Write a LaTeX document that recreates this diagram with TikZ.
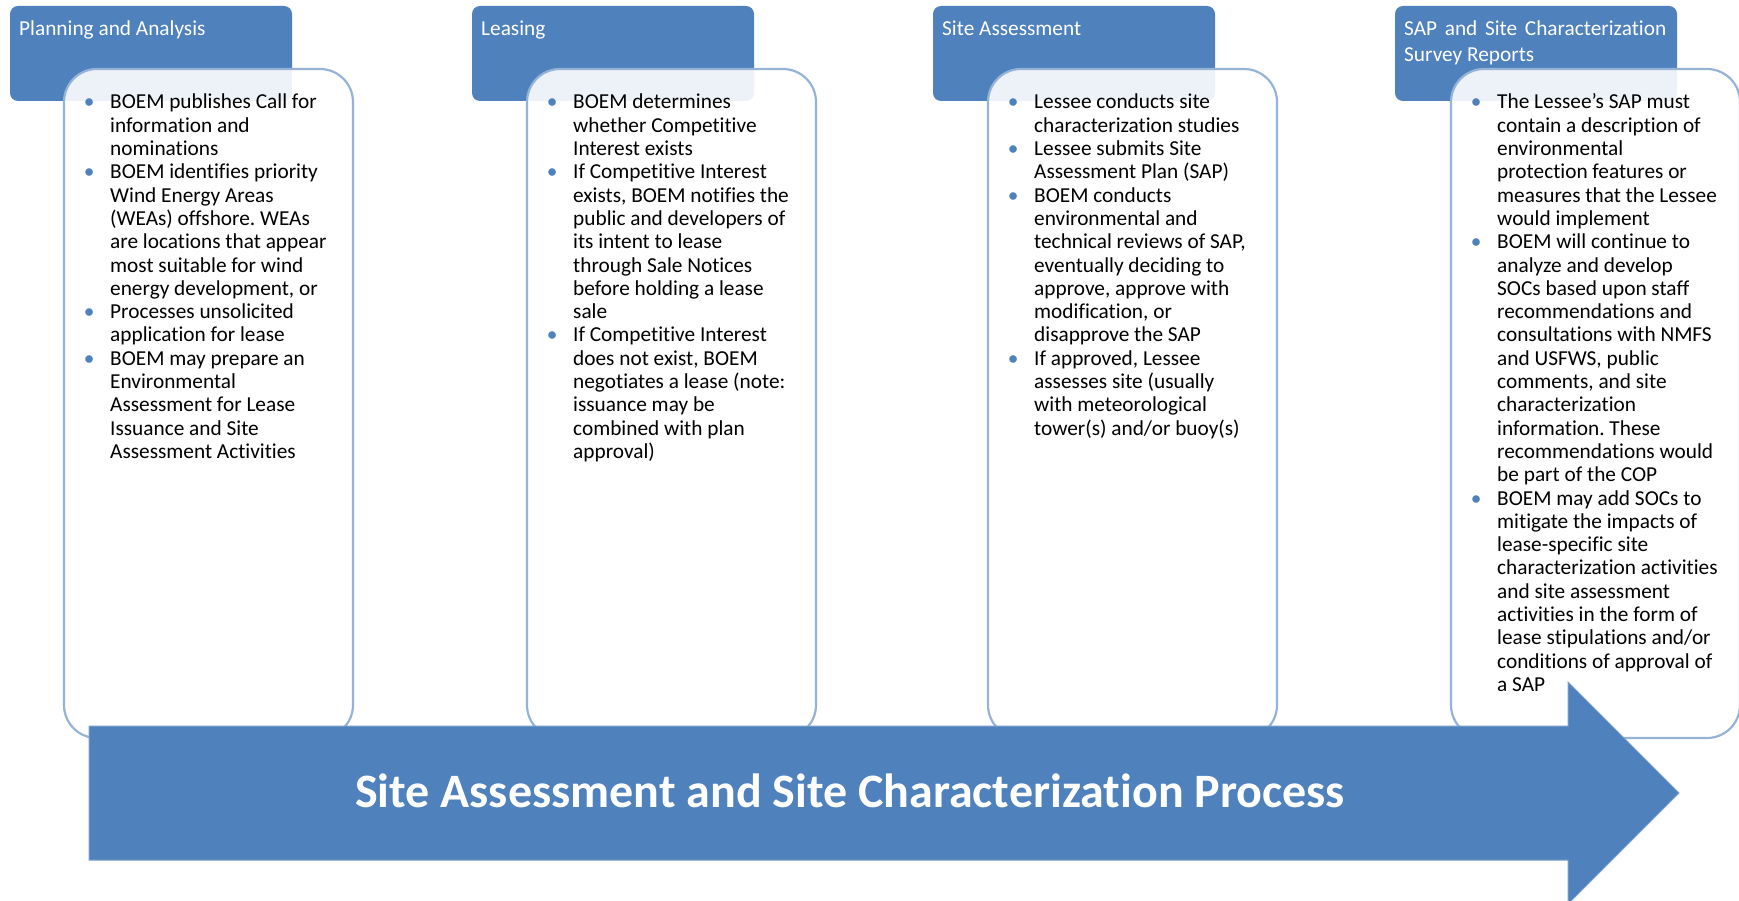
\documentclass[tikz,border=0pt]{standalone}
\usepackage{fontspec}
\setmainfont{Carlito}[Ligatures={TeX,NoCommon}]
\usetikzlibrary{positioning}
\frenchspacing

\definecolor{boemblue}{HTML}{4F81BD}
\definecolor{edgeblue}{HTML}{95B3D7}

% blue bullet for the note lists
\newcommand{\itm}{\makebox[7pt]{\textcolor{boemblue}{\textbullet}}}

\tikzset{
  phase/.style={fill=boemblue, rounded corners=8pt, minimum width=282pt, minimum height=95pt,
    inner sep=0pt, outer sep=0pt},
  phasetext/.style={text=white, font=\fontsize{21.3}{26}\selectfont, anchor=base west,
    inner sep=0pt, align=left},
  note/.style={draw=edgeblue, line width=2.2pt, fill=white, fill opacity=0.9,
    rounded corners=33pt, minimum width=289pt, minimum height=669pt, inner sep=0pt, outer sep=0pt},
  notetext/.style={font=\fontsize{21.3}{23.3}\selectfont, anchor=base west, inner sep=0pt},
}

\begin{document}
\begin{tikzpicture}[x=1pt, y=-1pt]
\useasboundingbox (0,0) rectangle (1739,901);
\clip (0,0) rectangle (1739,901);

% Phase headers
\node[phase, anchor=north west] (phase1) at (10,6) {};
\node[phase, right=180pt of phase1] (phase2) {};
\node[phase, right=179pt of phase2] (phase3) {};
\node[phase, right=180pt of phase3] (phase4) {};

\node[phasetext] (head1) at ([xshift=9pt, yshift=-30pt]phase1.north west) {Planning and Analysis};
\node[phasetext] (head2) at ([xshift=9pt, yshift=-30pt]phase2.north west) {Leasing};
\node[phasetext] (head3) at ([xshift=9pt, yshift=-30pt]phase3.north west) {Site Assessment};
% two lines: base anchor sits on the last one
\node[phasetext] (head4) at ([xshift=9pt, yshift=-56pt]phase4.north west)
  {\makebox[262pt][s]{SAP and Site Characterization}\\Survey Reports};

% Note boxes
\node[note, below right=63pt and 54pt of phase1.north west] (note1) {};
\node[note, below right=63pt and 55pt of phase2.north west] (note2) {};
\node[note, below right=63pt and 55pt of phase3.north west] (note3) {};
\node[note, below right=63pt and 56pt of phase4.north west] (note4) {};

\node[notetext] (list1) at ([xshift=21.5pt, yshift=-40pt]note1.north west) {%
\begin{tabular}[t]{@{}l@{\hspace{17.5pt}}l@{}}
\itm & BOEM publishes Call for\\
     & information and\\
     & nominations\\
\itm & BOEM identifies priority\\
     & Wind Energy Areas\\
     & (WEAs) offshore. WEAs\\
     & are locations that appear\\
     & most suitable for wind\\
     & energy development, or\\
\itm & Processes unsolicited\\
     & application for lease\\
\itm & BOEM may prepare an\\
     & Environmental\\
     & Assessment for Lease\\
     & Issuance and Site\\
     & Assessment Activities
\end{tabular}};

\node[notetext] (list2) at ([xshift=21.5pt, yshift=-40pt]note2.north west) {%
\begin{tabular}[t]{@{}l@{\hspace{17.5pt}}l@{}}
\itm & BOEM determines\\
     & whether Competitive\\
     & Interest exists\\
\itm & If Competitive Interest\\
     & exists, BOEM notifies the\\
     & public and developers of\\
     & its intent to lease\\
     & through Sale Notices\\
     & before holding a lease\\
     & sale\\
\itm & If Competitive Interest\\
     & does not exist, BOEM\\
     & negotiates a lease (note:\\
     & issuance may be\\
     & combined with plan\\
     & approval)
\end{tabular}};

\node[notetext] (list3) at ([xshift=21.5pt, yshift=-40pt]note3.north west) {%
\begin{tabular}[t]{@{}l@{\hspace{17.5pt}}l@{}}
\itm & Lessee conducts site\\
     & characterization studies\\
\itm & Lessee submits Site\\
     & Assessment Plan (SAP)\\
\itm & BOEM conducts\\
     & environmental and\\
     & technical reviews of SAP,\\
     & eventually deciding to\\
     & approve, approve with\\
     & modification, or\\
     & disapprove the SAP\\
\itm & If approved, Lessee\\
     & assesses site (usually\\
     & with meteorological\\
     & tower(s) and/or buoy(s)
\end{tabular}};

\node[notetext] (list4) at ([xshift=21.5pt, yshift=-40pt]note4.north west) {%
\begin{tabular}[t]{@{}l@{\hspace{17.5pt}}l@{}}
\itm & The Lessee’s SAP must\\
     & contain a description of\\
     & environmental\\
     & protection features or\\
     & measures that the Lessee\\
     & would implement\\
\itm & BOEM will continue to\\
     & analyze and develop\\
     & SOCs based upon staff\\
     & recommendations and\\
     & consultations with NMFS\\
     & and USFWS, public\\
     & comments, and site\\
     & characterization\\
     & information. These\\
     & recommendations would\\
     & be part of the COP\\
\itm & BOEM may add SOCs to\\
     & mitigate the impacts of\\
     & lease-specific site\\
     & characterization activities\\
     & and site assessment\\
     & activities in the form of\\
     & lease stipulations and/or\\
     & conditions of approval of\\
     & a SAP
\end{tabular}};

% Process arrow
\draw[fill=boemblue, draw=boemblue!75!white, line width=1pt]
  (89,726) -- (1568,726) -- (1568,682) -- (1679,793) -- (1568,904)
  -- (1568,860) -- (89,860) -- cycle;
\node[text=white, font=\fontsize{48}{56}\selectfont\bfseries, anchor=base, inner sep=0pt]
  (title) at (850,807) {Site Assessment and Site Characterization Process};
\end{tikzpicture}
\end{document}
